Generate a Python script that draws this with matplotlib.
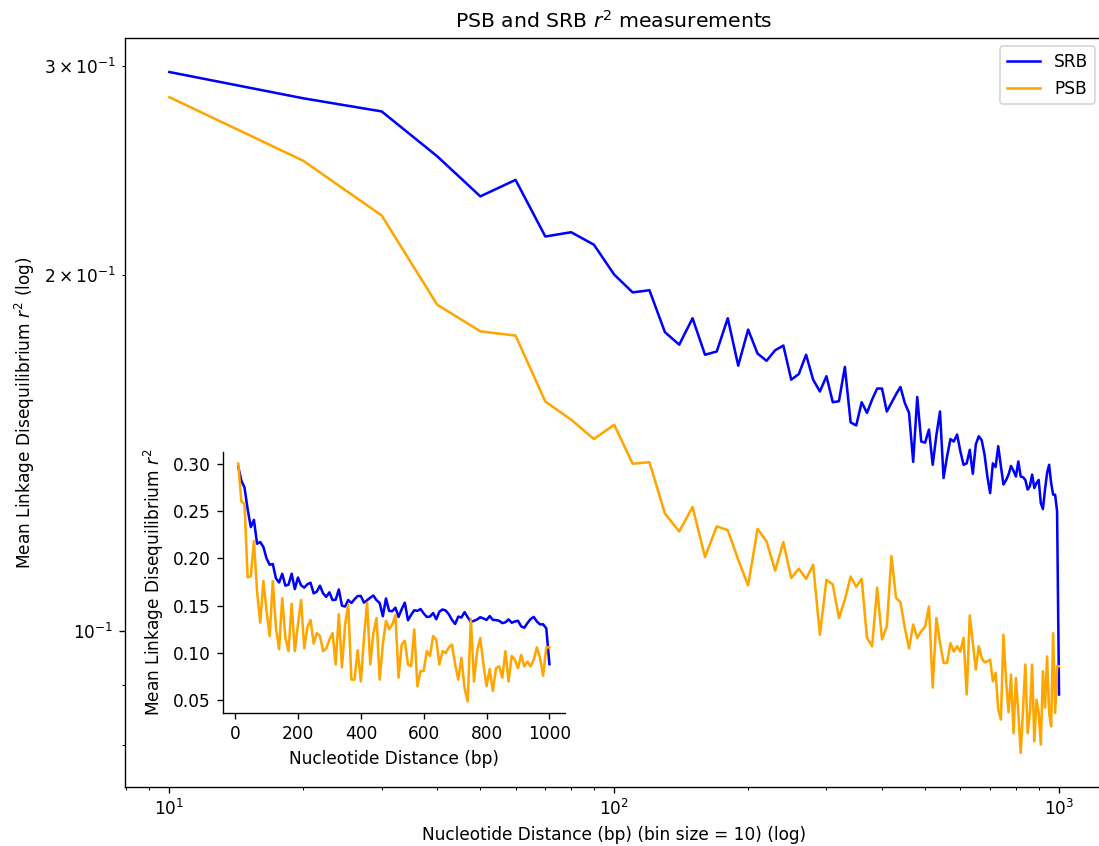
import numpy as np
import matplotlib
matplotlib.use("Agg")
import matplotlib.pyplot as plt

# bins of 10 bp
distance = np.arange(10, 1001, 10)

srb_r2 = [0.2967, 0.2819, 0.2748, 0.2518, 0.2329, 0.2405, 0.2154, 0.2172, 0.2120, 0.2000,
          0.1932, 0.1940, 0.1788, 0.1745, 0.1837, 0.1711, 0.1722, 0.1837, 0.1675, 0.1797,
          0.1715, 0.1691, 0.1726, 0.1742, 0.1630, 0.1648, 0.1711, 0.1630, 0.1593, 0.1641,
          0.1560, 0.1563, 0.1671, 0.1500, 0.1491, 0.1560, 0.1528, 0.1568, 0.1602, 0.1602,
          0.1532, 0.1558, 0.1584, 0.1607, 0.1558, 0.1528, 0.1389, 0.1576, 0.1445, 0.1442,
          0.1479, 0.1381, 0.1463, 0.1532, 0.1346, 0.1403, 0.1452, 0.1445, 0.1465, 0.1418,
          0.1381, 0.1385, 0.1422, 0.1357, 0.1437, 0.1460, 0.1449, 0.1409, 0.1350, 0.1307,
          0.1385, 0.1375, 0.1432, 0.1378, 0.1329, 0.1340, 0.1355, 0.1378, 0.1365, 0.1350,
          0.1390, 0.1350, 0.1348, 0.1341, 0.1316, 0.1325, 0.1355, 0.1320, 0.1333, 0.1341,
          0.1282, 0.1267, 0.1316, 0.1359, 0.1381, 0.1333, 0.1303, 0.1303, 0.1261, 0.0883]

psb_r2 = [0.2825, 0.2496, 0.2244, 0.1886, 0.1791, 0.1776, 0.1562, 0.1508, 0.1452, 0.1493,
          0.1384, 0.1388, 0.1256, 0.1213, 0.1272, 0.1154, 0.1225, 0.1216, 0.1148, 0.1092,
          0.1219, 0.1190, 0.1124, 0.1188, 0.1108, 0.1128, 0.1106, 0.1137, 0.0992, 0.1104,
          0.1094, 0.1025, 0.1062, 0.1111, 0.1089, 0.1106, 0.0986, 0.0970, 0.1087, 0.0983,
          0.1008, 0.1156, 0.1066, 0.1057, 0.1006, 0.0966, 0.1012, 0.0986, 0.0999, 0.1008,
          0.1048, 0.0895, 0.1025, 0.0977, 0.0939, 0.0939, 0.0976, 0.0960, 0.0970, 0.0960,
          0.0986, 0.0883, 0.1030, 0.0976, 0.0927, 0.0970, 0.0948, 0.0940, 0.0942, 0.0945,
          0.0906, 0.0921, 0.0858, 0.0841, 0.0992, 0.0909, 0.0853, 0.0918, 0.0819, 0.0912,
          0.0852, 0.0788, 0.0858, 0.0936, 0.0819, 0.0852, 0.0936, 0.0806, 0.0874, 0.0852,
          0.0801, 0.0924, 0.0861, 0.0951, 0.0852, 0.0830, 0.0995, 0.0852, 0.0933, 0.0933]

# PSB values shown in the linear inset
psb_inset_r2 = [0.300, 0.260, 0.257, 0.180, 0.181, 0.218, 0.165, 0.132, 0.176, 0.145,
                0.118, 0.176, 0.127, 0.104, 0.158, 0.116, 0.102, 0.152, 0.102, 0.130,
                0.156, 0.105, 0.127, 0.135, 0.110, 0.121, 0.118, 0.102, 0.105, 0.114,
                0.121, 0.088, 0.141, 0.085, 0.130, 0.151, 0.072, 0.072, 0.103, 0.070,
                0.116, 0.153, 0.088, 0.121, 0.137, 0.072, 0.109, 0.134, 0.125, 0.130,
                0.140, 0.074, 0.109, 0.113, 0.088, 0.086, 0.125, 0.065, 0.081, 0.081,
                0.102, 0.097, 0.118, 0.114, 0.088, 0.102, 0.100, 0.106, 0.109, 0.088,
                0.072, 0.095, 0.063, 0.049, 0.136, 0.070, 0.102, 0.116, 0.088, 0.065,
                0.083, 0.060, 0.084, 0.086, 0.074, 0.102, 0.070, 0.097, 0.093, 0.084,
                0.098, 0.086, 0.091, 0.086, 0.093, 0.106, 0.095, 0.076, 0.106, 0.106]

DPI = 122
fig = plt.figure(figsize=(1099 / DPI, 846 / DPI), dpi=DPI)

# main axes runs a little past the right edge, like the cropped original
ax = fig.add_axes([0.1137, 0.0697, 0.8904, 0.8854])
ax.plot(distance, srb_r2, color='blue', label='SRB')
ax.plot(distance, psb_r2, color='orange', label='PSB')
ax.set_xscale('log')
ax.set_yscale('log')
ax.set_xlabel('Nucleotide Distance (bp) (bin size = 10) (log)')
ax.set_ylabel('Mean Linkage Disequilibrium $r^2$ (log)')
ax.set_title('PSB and SRB $r^2$ measurements')
ax.legend(loc='upper right')

ins = fig.add_axes([0.2026, 0.1569, 0.3115, 0.3092])
ins.plot(distance, srb_r2, color='blue')
ins.plot(distance, psb_inset_r2, color='orange')
ins.spines[['top', 'right']].set_visible(False)
ins.set_xlabel('Nucleotide Distance (bp)')
ins.set_ylabel('Mean Linkage Disequilibrium $r^2$')

fig.savefig('out.png', dpi=DPI)
